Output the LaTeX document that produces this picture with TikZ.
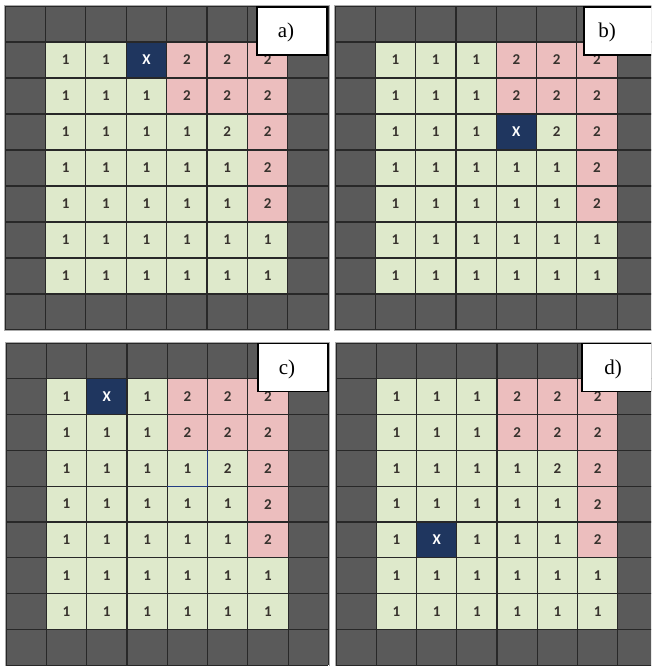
\documentclass[tikz,border=0pt]{standalone}
\usepackage{fontspec}
\setmainfont{Liberation Serif}
\newfontfamily\cellfont{Carlito}
\newcommand\cellsize{\fontsize{15}{17}\selectfont}
\definecolor{cgray}{RGB}{90,90,90}
\definecolor{cline}{RGB}{40,40,40}
\definecolor{cgreen}{RGB}{222,233,203}
\definecolor{cpink}{RGB}{236,190,190}
\definecolor{cnavy}{RGB}{31,54,95}
\definecolor{chigh}{RGB}{35,60,130}
\definecolor{ctext}{RGB}{55,50,45}
\definecolor{cframe}{RGB}{170,170,170}
\tikzset{
  cellbox/.style={rectangle, draw=none, inner sep=0pt, minimum width=#1},
  gridline/.style={draw=cline, line width=1.2pt},
  panelframe/.style={draw=cframe, line width=0.6pt},
  labelbox/.style={rectangle, draw=black, fill=white, line width=1.3pt, minimum width=70pt, minimum height=48pt, inner sep=0pt},
  labeltext/.style={font=\fontsize{21}{24}\selectfont, inner sep=0pt},
  celltext/.style={text=ctext}
}
% #1 x0, #2 y0 (down), #3 cell width, #4 cell height, #5 row of X, #6 col of X, #7 name
\newcommand\mypanel[7]{%
  \begin{scope}[shift={(#1pt,-#2pt)}]
    \fill[cgray] (0,0) rectangle (8*#3pt,-9*#4pt);
    \foreach \r in {1,...,7}{
      \foreach \c in {1,...,6}{
        \pgfmathtruncatemacro\ispink{((\r<=2)&&(\c>=4))||((\c==6)&&(\r<=5))}
        \pgfmathtruncatemacro\istwo{(\ispink==1)||((\r==3)&&(\c==5))}
        \pgfmathtruncatemacro\isx{(\r==#5)&&(\c==#6)}
        \ifnum\isx=1
          \def\fc{cnavy}\def\tx{\textcolor{white}{X}}%
        \else
          \ifnum\ispink=1 \def\fc{cpink}\else\def\fc{cgreen}\fi
          \ifnum\istwo=1 \def\tx{2}\else\def\tx{1}\fi
        \fi
        \node[cellbox=#3pt, minimum height=#4pt, fill=\fc, celltext] (#7-\r-\c)
          at ({(\c+0.5)*#3pt},{-(\r+0.5)*#4pt}) {\cellfont\bfseries\cellsize\tx};
      }
    }
    \foreach \i in {0,...,8}{\draw[gridline] ({\i*#3pt},0) -- ({\i*#3pt},{-9*#4pt});}
    \foreach \j in {0,...,9}{\draw[gridline] (0,{-\j*#4pt}) -- ({8*#3pt},{-\j*#4pt});}
    \draw[panelframe] (-0.6pt,0.6pt) rectangle ({8*#3pt+0.6pt},{-9*#4pt-0.6pt});
  \end{scope}}

\begin{document}
\begin{tikzpicture}[x=1pt,y=1pt]
\useasboundingbox (0,0) rectangle (651,-666);
\clip (0,0) rectangle (651,-666);
\fill[white] (0,0) rectangle (651,-666);

\mypanel{5}{6}{40.4}{36}{1}{3}{a}
\mypanel{335}{6}{40.3}{36}{3}{4}{b}
\mypanel{6}{343}{40.3}{35.8}{1}{2}{c}
\mypanel{336}{343}{40.25}{35.8}{5}{2}{d}

% highlighted cell border in panel c
\draw[chigh, line width=1.1pt] (c-3-4.north east) -- (c-3-4.south east) -- (c-3-4.south west);

% labels
\node[labelbox] (la) at (292,-31) {};
\node[labeltext] (lat) at (286,-32) {a)};
\node[labelbox] (lb) at (619,-31) {};
\node[labeltext] (lbt) at (607,-32) {b)};
\node[labelbox] (lc) at (293,-367.5) {};
\node[labeltext] (lct) at (287,-369) {c)};
\node[labelbox] (ld) at (617,-367.5) {};
\node[labeltext] (ldt) at (613,-369) {d)};
\end{tikzpicture}
\end{document}
